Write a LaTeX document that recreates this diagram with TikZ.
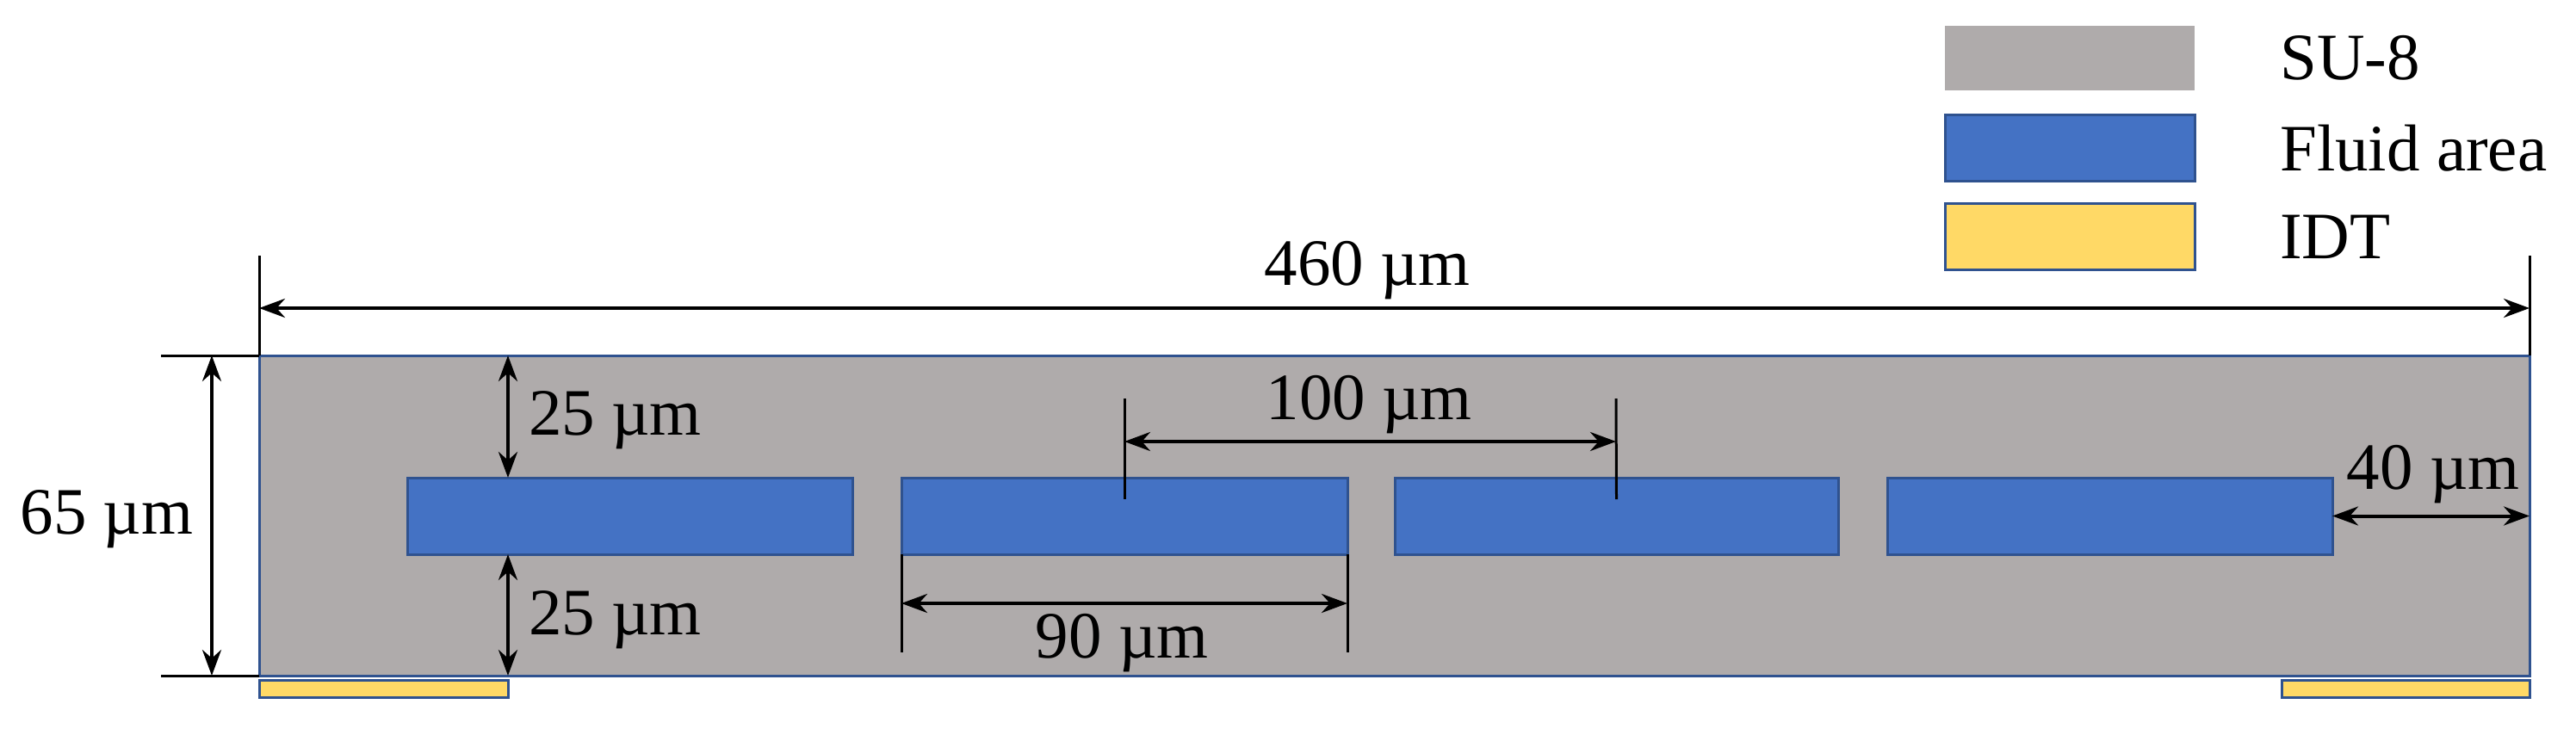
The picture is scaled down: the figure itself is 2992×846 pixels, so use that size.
\documentclass[tikz,border=0pt]{standalone}
\usepackage{fontspec}
\setmainfont{Liberation Serif}
\usetikzlibrary{arrows.meta}
\definecolor{sug}{HTML}{AFABAB}
\definecolor{flb}{HTML}{4472C4}
\definecolor{idy}{HTML}{FFD966}
\definecolor{edg}{HTML}{2F528F}
\begin{document}
\begin{tikzpicture}[x=1pt,y=-1pt,
  box/.style={rectangle,inner sep=0,outer sep=0,anchor=north west,line width=3pt},
  lab/.style={font=\fontsize{77}{80}\selectfont,inner sep=0},
  dim/.style={line width=4pt,{Stealth[length=30pt,width=22pt]}-{Stealth[length=30pt,width=22pt]}},
  ext/.style={line width=3pt}]
\useasboundingbox (0,0) rectangle (2992,846);
% SU-8 body
\node[box,fill=sug,draw=edg,minimum width=2637pt,minimum height=372pt] (su) at (301,413) {};
% fluid areas
\node[box,fill=flb,draw=edg,minimum width=517pt,minimum height=89pt] (f1) at (473,555) {};
\node[box,fill=flb,draw=edg,minimum width=518pt,minimum height=89pt] (f2) at (1047,555) {};
\node[box,fill=flb,draw=edg,minimum width=515pt,minimum height=89pt] (f3) at (1620,555) {};
\node[box,fill=flb,draw=edg,minimum width=517pt,minimum height=89pt] (f4) at (2192,555) {};
% IDTs
\node[box,fill=idy,draw=edg,minimum width=289pt,minimum height=20pt] (i1) at (301,790) {};
\node[box,fill=idy,draw=edg,minimum width=288pt,minimum height=20pt] (i2) at (2650,790) {};
% legend
\node[box,fill=sug,minimum width=290pt,minimum height=75pt] (lg1) at (2259,30) {};
\node[box,fill=flb,draw=edg,minimum width=290pt,minimum height=77pt] (lg2) at (2259,133) {};
\node[box,fill=idy,draw=edg,minimum width=290pt,minimum height=77pt] (lg3) at (2259,236) {};
\node[lab,anchor=west] (t1) at (2648,67) {SU-8};
\node[lab,anchor=west] (t2) at (2648,172) {Fluid area};
\node[lab,anchor=west] (t3) at (2648,275) {IDT};
% 460
\coordinate (a1) at (301,297); \coordinate (a2) at (2938,297);
\draw[ext] (a1) -- (su.north west);
\draw[ext] (a2) -- (su.north east);
\coordinate (b1) at (301,358); \coordinate (b2) at (2938,358);
\draw[dim] (b1) -- (b2);
\node[lab] (l460) at (1588,314) {460 µm};
% 65
\coordinate (c1) at (187,413); \coordinate (c2) at (187,785);
\draw[ext] (c1) -- (su.north west);
\draw[ext] (c2) -- (su.south west);
\coordinate (d1) at (246,413); \coordinate (d2) at (246,785);
\draw[dim] (d1) -- (d2);
\node[lab] (l65) at (124,603) {65 µm};
% 25 top/bottom
\coordinate (e1) at (590,413); \coordinate (e2) at (590,555);
\coordinate (e3) at (590,644); \coordinate (e4) at (590,785);
\draw[dim] (e1) -- (e2);
\draw[dim] (e3) -- (e4);
\node[lab,anchor=west] (l25a) at (614,488) {25 µm};
\node[lab,anchor=west] (l25b) at (614,720) {25 µm};
% 100
\coordinate (g1) at (1306,463); \coordinate (g2) at (1877,463);
\draw[ext] (g1) -- (f2.center |- 0,580);
\draw[ext] (g2) -- (f3.center |- 0,580);
\coordinate (h1) at (1306,513); \coordinate (h2) at (1877,513);
\draw[dim] (h1) -- (h2);
\node[lab] (l100) at (1590,470) {100 µm};
% 90
\coordinate (k1) at (1047,758); \coordinate (k2) at (1565,758);
\draw[ext] (f2.south west) -- (k1);
\draw[ext] (f2.south east) -- (k2);
\coordinate (m1) at (1047,701); \coordinate (m2) at (1565,701);
\draw[dim] (m1) -- (m2);
\node[lab] (l90) at (1303,747) {90 µm};
% 40
\coordinate (n2) at (su.east |- f4.east);
\draw[dim] (f4.east) -- (n2);
\node[lab] (l40) at (2826,551) {40 µm};
\end{tikzpicture}
\end{document}
